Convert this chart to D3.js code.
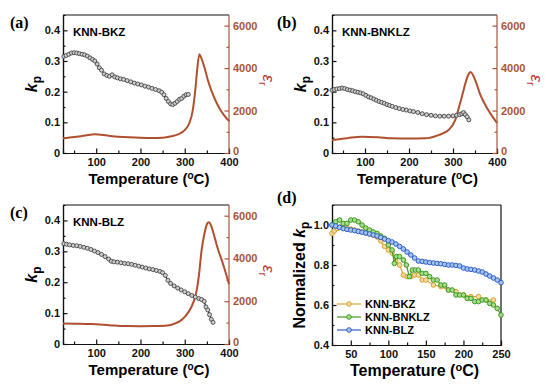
<!DOCTYPE html>
<html lang="en">
<head>
    <meta charset="utf-8">
    <title>kp and permittivity vs temperature</title>
    <script src="https://cdnjs.cloudflare.com/ajax/libs/d3/7.8.5/d3.min.js"></script>
    <style>
        body { margin: 0; background: #fff; }
        svg text { font-family: "Liberation Sans", Arial, sans-serif; font-weight: bold; }
        .panel-label { font-family: "Liberation Serif", "Times New Roman", serif !important; font-size: 16px; }
    </style>
</head>
<body>
<div id="chart"></div>
<script>
    // kp vs temperature (panels a, b, c)
    var tBKZ = [27,32,38,44,50,56,62,68,74,80,86,92,97,102,107,112,118,124,130,136,142,148,155,162,170,178,186,194,202,210,218,226,234,242,248,253,258,263,268,273,278,283,288,293,298,303,308];
    var kpBKZ = [0.315,0.318,0.322,0.326,0.327,0.326,0.324,0.322,0.32,0.316,0.31,0.305,0.3,0.29,0.278,0.27,0.258,0.253,0.25,0.255,0.248,0.245,0.242,0.24,0.236,0.232,0.228,0.225,0.222,0.218,0.215,0.211,0.207,0.203,0.198,0.19,0.178,0.168,0.16,0.158,0.162,0.168,0.175,0.178,0.185,0.19,0.191];

    var tBNKLZ = [25,30,36,42,48,54,60,66,72,78,84,90,96,102,108,114,120,126,132,138,144,150,156,162,170,178,186,194,202,210,220,230,240,250,260,270,280,290,300,308,315,320,324,328,332,336];
    var kpBNKLZ = [0.205,0.207,0.209,0.21,0.212,0.21,0.207,0.205,0.203,0.2,0.198,0.196,0.193,0.188,0.183,0.18,0.176,0.172,0.168,0.165,0.162,0.158,0.155,0.152,0.148,0.145,0.142,0.14,0.137,0.135,0.132,0.128,0.125,0.123,0.121,0.12,0.12,0.12,0.121,0.123,0.125,0.128,0.132,0.125,0.118,0.108];

    var tBLZ = [27,33,40,48,56,64,72,80,88,96,104,112,120,128,134,140,148,156,164,172,180,188,196,204,212,220,228,236,244,250,256,262,268,276,284,292,300,308,316,324,332,338,344,348,352,356,360,364];
    var kpBLZ = [0.325,0.323,0.321,0.319,0.318,0.316,0.313,0.31,0.306,0.301,0.296,0.29,0.283,0.275,0.268,0.266,0.265,0.263,0.261,0.26,0.258,0.255,0.252,0.249,0.246,0.243,0.241,0.238,0.235,0.231,0.222,0.206,0.196,0.188,0.181,0.175,0.169,0.163,0.157,0.152,0.147,0.144,0.138,0.12,0.11,0.095,0.08,0.07];

    // permittivity vs temperature
    var tEpsBKZ = [25,50,75,97,125,150,175,200,225,250,270,285,300,310,318,324,328,333,338,345,352,360,370,380,390,400];
    var epsBKZ = [690,750,820,880,820,770,740,720,710,720,790,880,1080,1390,2000,3000,3900,4650,4450,4000,3450,2950,2450,2050,1750,1500];

    var tEpsBNKLZ = [25,60,93,130,161,200,237,267,290,305,316,322,328,334,340,346,352,361,370,380,390,400];
    var epsBNKLZ = [610,700,770,740,690,680,690,845,1080,1550,2330,2800,3270,3650,3820,3650,3350,2800,2400,2020,1700,1420];

    var tEpsBLZ = [25,60,90,130,165,200,233,260,278,290,300,308,315,322,327,332,338,342,346,350,353,357,361,368,376,384,391,400];
    var epsBLZ = [960,950,930,880,837,830,837,860,960,1080,1270,1480,1730,2100,2510,3200,4370,4900,5300,5600,5690,5650,5450,4950,4370,3900,3440,2800];

    // normalized kp (panel d)
    var tNBKZ = [25,28,32,36,40,45,50,55,60,65,70,75,80,85,90,95,100,105,110,115,120,125,130,135,140,145,150,160,170,180,190,200,210,220,230,240];
    var nBKZ = [0.958,0.97,0.983,0.99,0.99,0.985,0.98,0.975,0.97,0.965,0.96,0.955,0.95,0.94,0.92,0.893,0.875,0.86,0.82,0.8,0.75,0.742,0.742,0.75,0.75,0.725,0.725,0.7,0.692,0.675,0.667,0.65,0.642,0.642,0.625,0.625];

    var tNBNKLZ = [25,30,35,40,45,50,55,60,65,70,75,80,85,90,95,100,105,108,111,115,120,124,128,132,136,140,145,150,155,160,165,170,175,180,185,190,195,200,205,210,215,220,225,230,235,240,245,250];
    var nBNKLZ = [1.0,1.016,1.025,1.008,1.008,1.025,1.025,1.016,1.0,0.985,0.975,0.965,0.958,0.945,0.933,0.9,0.875,0.808,0.842,0.842,0.825,0.8,0.742,0.775,0.775,0.775,0.758,0.758,0.742,0.725,0.725,0.7,0.7,0.675,0.675,0.65,0.65,0.65,0.633,0.633,0.617,0.617,0.625,0.625,0.608,0.6,0.583,0.55];

    var tNBLZ = [25,30,35,40,45,50,55,60,65,70,75,80,85,90,95,100,105,110,115,120,125,130,135,140,145,150,155,160,165,170,175,180,185,190,195,200,205,210,215,220,225,230,235,240,245,250];
    var nBLZ = [1.0,0.995,0.988,0.982,0.978,0.975,0.972,0.968,0.964,0.96,0.955,0.95,0.945,0.938,0.93,0.922,0.915,0.905,0.893,0.88,0.865,0.85,0.835,0.82,0.818,0.815,0.812,0.81,0.808,0.806,0.803,0.8,0.8,0.798,0.795,0.785,0.78,0.778,0.775,0.77,0.765,0.755,0.745,0.735,0.725,0.712];

    // tick values
    var tempTicks = [100, 200, 300, 400], tempMinor = [50, 150, 250, 350];
    var kpTicks = [0, 0.1, 0.2, 0.3, 0.4], kpMinor = [0.05, 0.15, 0.25, 0.35];
    var epsTicks = [0, 2000, 4000, 6000], epsMinor = [1000, 3000, 5000];
    var dTempTicks = [50, 100, 150, 200, 250], dTempMinor = [75, 125, 175, 225];
    var nTicks = [0.4, 0.6, 0.8, 1.0], nMinor = [0.5, 0.7, 0.9];

    var zip = function(xs, ys) { return xs.map(function(x, i) { return [x, ys[i]]; }); };

    var epsColor = '#b0502e',
        epsAxisColor = '#a8553a';

    var svg = d3.select('#chart').append('svg')
        .attr('width', 550)
        .attr('height', 385);

    var fmtY = function(d) { return d === 0 ? '0' : d3.format('.1f')(d); };

    // draw a frame with inward ticks
    function frame(g, w, h, x, y, tk, rightColor) {
        g.append('g').attr('transform', 'translate(0,' + h + ')')
            .call(d3.axisBottom(x).tickValues(tk.xMinor).tickSize(-2.5).tickFormat(''));
        g.append('g').attr('transform', 'translate(0,' + h + ')')
            .call(d3.axisBottom(x).tickValues(tk.x).tickSize(-4.5).tickPadding(5).tickSizeOuter(0));
        g.append('g')
            .call(d3.axisLeft(y).tickValues(tk.yMinor).tickSize(-2.5).tickFormat(''));
        g.append('g')
            .call(d3.axisLeft(y).tickValues(tk.y).tickSize(-4.5).tickPadding(3).tickSizeOuter(0).tickFormat(fmtY));
        g.selectAll('.tick text').style('font-size', '11px').attr('fill', '#111');
        g.selectAll('.domain, .tick line').attr('stroke', '#111').attr('stroke-width', 1.2);
        g.append('line').attr('x1', 0).attr('x2', w).attr('y1', 0).attr('y2', 0)
            .attr('stroke', '#111').attr('stroke-width', 1.2);
        g.append('line').attr('x1', w).attr('x2', w).attr('y1', 0).attr('y2', h)
            .attr('stroke', rightColor).attr('stroke-width', 1.2);
    }

    function kpLabel(g, xPos, yPos, prefix) {
        var t = g.append('text')
            .attr('transform', 'translate(' + xPos + ',' + yPos + ') rotate(-90)')
            .attr('text-anchor', 'middle')
            .style('font-size', '16px');
        if (prefix) t.append('tspan').text(prefix);
        t.append('tspan').style('font-style', 'italic').text('k');
        t.append('tspan').attr('dy', 4).style('font-size', '12px').text('p');
    }

    function tempLabel(g, xPos, yPos, size) {
        var t = g.append('text')
            .attr('x', xPos).attr('y', yPos)
            .attr('text-anchor', 'middle')
            .style('font-size', size + 'px');
        t.append('tspan').text('Temperature (');
        t.append('tspan').attr('dy', -5).style('font-size', (size - 5) + 'px').text('o');
        t.append('tspan').attr('dy', 5).text('C)');
    }

    // one dielectric/kp panel
    function panel(cfg) {
        var w = cfg.w, h = cfg.h;
        var g = svg.append('g').attr('transform', 'translate(' + cfg.left + ',' + cfg.top + ')');
        var x = d3.scaleLinear().domain([25, 400]).range([0, w]);
        var y = d3.scaleLinear().domain([0, 0.45]).range([h, 0]);
        var y2 = d3.scaleLinear().domain([0, 6500]).range([h, 0]);

        frame(g, w, h, x, y, { x: tempTicks, xMinor: tempMinor, y: kpTicks, yMinor: kpMinor }, epsAxisColor);

        // right axis (permittivity)
        var ra = g.append('g').attr('transform', 'translate(' + w + ',0)');
        ra.append('g').call(d3.axisRight(y2).tickValues(epsMinor).tickSize(-2.5).tickFormat(''));
        ra.append('g').call(d3.axisRight(y2).tickValues(epsTicks).tickSize(-4.5).tickPadding(4).tickSizeOuter(0).tickFormat(d3.format('d')));
        ra.selectAll('.domain').remove();
        ra.selectAll('.tick line').attr('stroke', epsAxisColor).attr('stroke-width', 1.2);
        ra.selectAll('.tick text').style('font-size', '11px').attr('fill', epsAxisColor);
        ra.selectAll('.tick text').filter(function(d) { return d === 0; }).attr('dy', '0.1em');

        // eps curve
        var epsLine = d3.line().curve(d3.curveMonotoneX)
            .x(function(d) { return x(d[0]); })
            .y(function(d) { return y2(d[1]); });
        g.append('path').datum(zip(cfg.tEps, cfg.eps))
            .attr('d', epsLine)
            .attr('fill', 'none').attr('stroke', epsColor).attr('stroke-width', 2);

        // kp series
        var kp = zip(cfg.t, cfg.kp);
        g.append('path').datum(kp)
            .attr('d', d3.line().x(function(d) { return x(d[0]); }).y(function(d) { return y(d[1]); }))
            .attr('fill', 'none').attr('stroke', '#2a2a2a').attr('stroke-width', 1.2);
        g.selectAll('circle.kp').data(kp).enter()
            .append('circle').attr('class', 'kp')
            .attr('cx', function(d) { return x(d[0]); })
            .attr('cy', function(d) { return y(d[1]); })
            .attr('r', 2)
            .attr('fill', '#cfcfcf').attr('stroke', '#444').attr('stroke-width', 0.9);

        g.append('text').attr('x', 10).attr('y', 21).style('font-size', '11.5px').text(cfg.name);

        kpLabel(g, -26, h * 0.5, '');
        tempLabel(g, w / 2 + 3, h + 31, 15);

        var er = g.append('text')
            .attr('transform', 'translate(' + (w + 34) + ',' + (h * 0.5 - 4) + ') rotate(90)')
            .attr('text-anchor', 'middle')
            .attr('fill', '#c0392b')
            .style('font-size', '17px').style('font-weight', 'normal');
        er.append('tspan').style('font-style', 'italic').text('ε');
        er.append('tspan').attr('dy', 4).style('font-size', '11px').text('r');

        svg.append('text').attr('class', 'panel-label')
            .attr('x', cfg.labelX).attr('y', cfg.top + 13).text(cfg.label);
    }

    panel({ left: 63, top: 15, w: 166, h: 138, t: tBKZ, kp: kpBKZ, tEps: tEpsBKZ, eps: epsBKZ, name: 'KNN-BKZ', label: '(a)', labelX: 10 });
    panel({ left: 332, top: 15, w: 165, h: 138, t: tBNKLZ, kp: kpBNKLZ, tEps: tEpsBNKLZ, eps: epsBNKLZ, name: 'KNN-BNKLZ', label: '(b)', labelX: 277 });
    panel({ left: 63, top: 205, w: 166, h: 139, t: tBLZ, kp: kpBLZ, tEps: tEpsBLZ, eps: epsBLZ, name: 'KNN-BLZ', label: '(c)', labelX: 10 });

    // panel d: normalized kp
    var dw = 169, dh = 140;
    var gd = svg.append('g').attr('transform', 'translate(332,205)');
    var xd = d3.scaleLinear().domain([25, 250]).range([0, dw]);
    var yd = d3.scaleLinear().domain([0.4, 1.1]).range([dh, 0]);
    frame(gd, dw, dh, xd, yd, { x: dTempTicks, xMinor: dTempMinor, y: nTicks, yMinor: nMinor }, '#111');

    var series = [
        { name: 'KNN-BKZ', t: tNBKZ, v: nBKZ, stroke: '#d9a032', fill: '#f3dba0' },
        { name: 'KNN-BNKLZ', t: tNBNKLZ, v: nBNKLZ, stroke: '#3d9a1e', fill: '#a8dc8c' },
        { name: 'KNN-BLZ', t: tNBLZ, v: nBLZ, stroke: '#2f5fc4', fill: '#a6c4f0' }
    ];

    var nLine = d3.line().x(function(d) { return xd(d[0]); }).y(function(d) { return yd(d[1]); });
    series.forEach(function(s) {
        var pts = zip(s.t, s.v);
        gd.append('path').datum(pts).attr('d', nLine)
            .attr('fill', 'none').attr('stroke', s.stroke).attr('stroke-width', 1.2);
        gd.selectAll(null).data(pts).enter().append('circle')
            .attr('cx', function(d) { return xd(d[0]); })
            .attr('cy', function(d) { return yd(d[1]); })
            .attr('r', 2.3)
            .attr('fill', s.fill).attr('stroke', s.stroke).attr('stroke-width', 1);
    });

    // legend
    var leg = gd.append('g').attr('transform', 'translate(5,99)');
    series.forEach(function(s, i) {
        var row = leg.append('g').attr('transform', 'translate(0,' + (i * 13) + ')');
        row.append('line').attr('x1', 0).attr('x2', 24).attr('stroke', s.stroke).attr('stroke-width', 1.2);
        row.append('circle').attr('cx', 12).attr('r', 2.3).attr('fill', s.fill).attr('stroke', s.stroke);
        row.append('text').attr('x', 28).attr('y', 4).style('font-size', '11px').text(s.name);
    });

    kpLabel(gd, -27, dh / 2, 'Normalized ');
    tempLabel(gd, dw / 2 - 2, dh + 31, 16);
    svg.append('text').attr('class', 'panel-label').attr('x', 277).attr('y', 203).text('(d)');
</script>
</body>
</html>
